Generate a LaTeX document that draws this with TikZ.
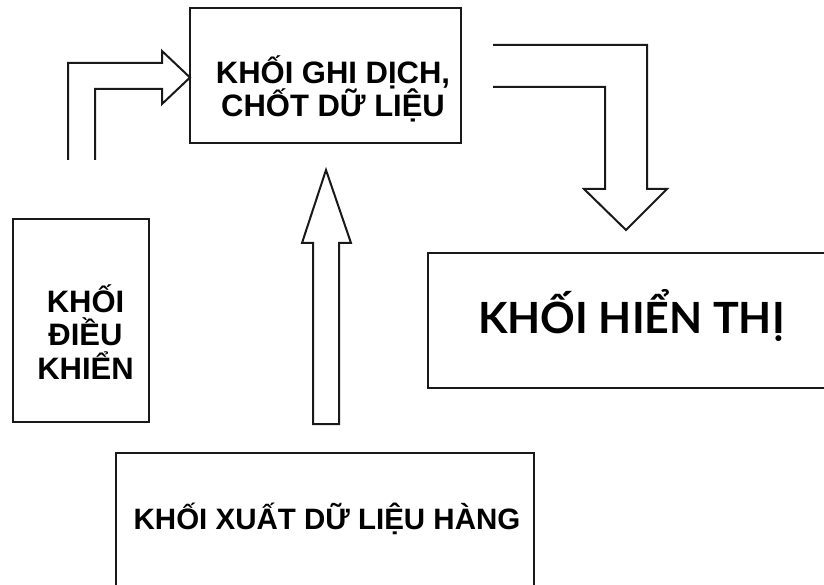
\documentclass[tikz,border=0pt]{standalone}
\usepackage{fontspec}
\setmainfont{Liberation Sans}
\newfontfamily\hienthifont{Lato}

\begin{document}
\begin{tikzpicture}[x=1pt, y=-1pt,
    khoi/.style={draw=black!90, line width=2pt, inner sep=0pt},
    chu/.style={font=\bfseries\fontsize{31}{33.5}\selectfont, align=center, inner sep=0pt},
    muiten/.style={draw=black!90, line width=2pt, line join=miter}]
      \useasboundingbox (0,0) rectangle (824,585);
      \clip (0,0) rectangle (824,585);
      %
      \node[khoi, minimum width=271pt, minimum height=135pt] (ghidich) at (325.5,75.5) {};   % top block
      \node[khoi, minimum width=136pt, minimum height=203pt] (dieukhien) at (81,320.5) {};   % left block
      \node[khoi, minimum width=420pt, minimum height=135pt] (hienthi) at (638,320.5) {};    % right block
      \node[khoi, minimum width=418pt, minimum height=160pt] (xuat) at (325,533) {};         % bottom block
      %
      \node[chu] (ghidichchu) at (333,89) {KHỐI GHI DỊCH,\\CHỐT DỮ LIỆU};
      \node[chu] (dieukhienchu) at (85.5,332) {KHỐI\\ĐIỀU\\KHIỂN};
      \node[chu, font=\hienthifont\bfseries\fontsize{43}{48}\selectfont] (hienthichu) at (631.5,315.5) {KHỐI HIỂN THỊ};
      \node[chu, font=\bfseries\fontsize{29.5}{33}\selectfont] (xuatchu) at (327,519) {KHỐI XUẤT DỮ LIỆU HÀNG};
      %
      % bent arrow into the top block
      \draw[muiten] (68,160) -- (68,63) -- (162,63) -- (162,51) -- (190,77.5)
                    -- (162,104) -- (162,89) -- (95,89) -- (95,160);
      %
      % bent arrow down to the display
      \draw[muiten] (493,45) -- (647,45) -- (647,189) -- (667,189) -- (626,230)
                    -- (584,189) -- (605,189) -- (605,87) -- (493,87);
      %
      % straight arrow up
      \draw[muiten] (313,424) -- (313,243) -- (302,243) -- (326,170)
                    -- (351,243) -- (339,243) -- (339,424) -- cycle;
      %
\end{tikzpicture}
\end{document}
